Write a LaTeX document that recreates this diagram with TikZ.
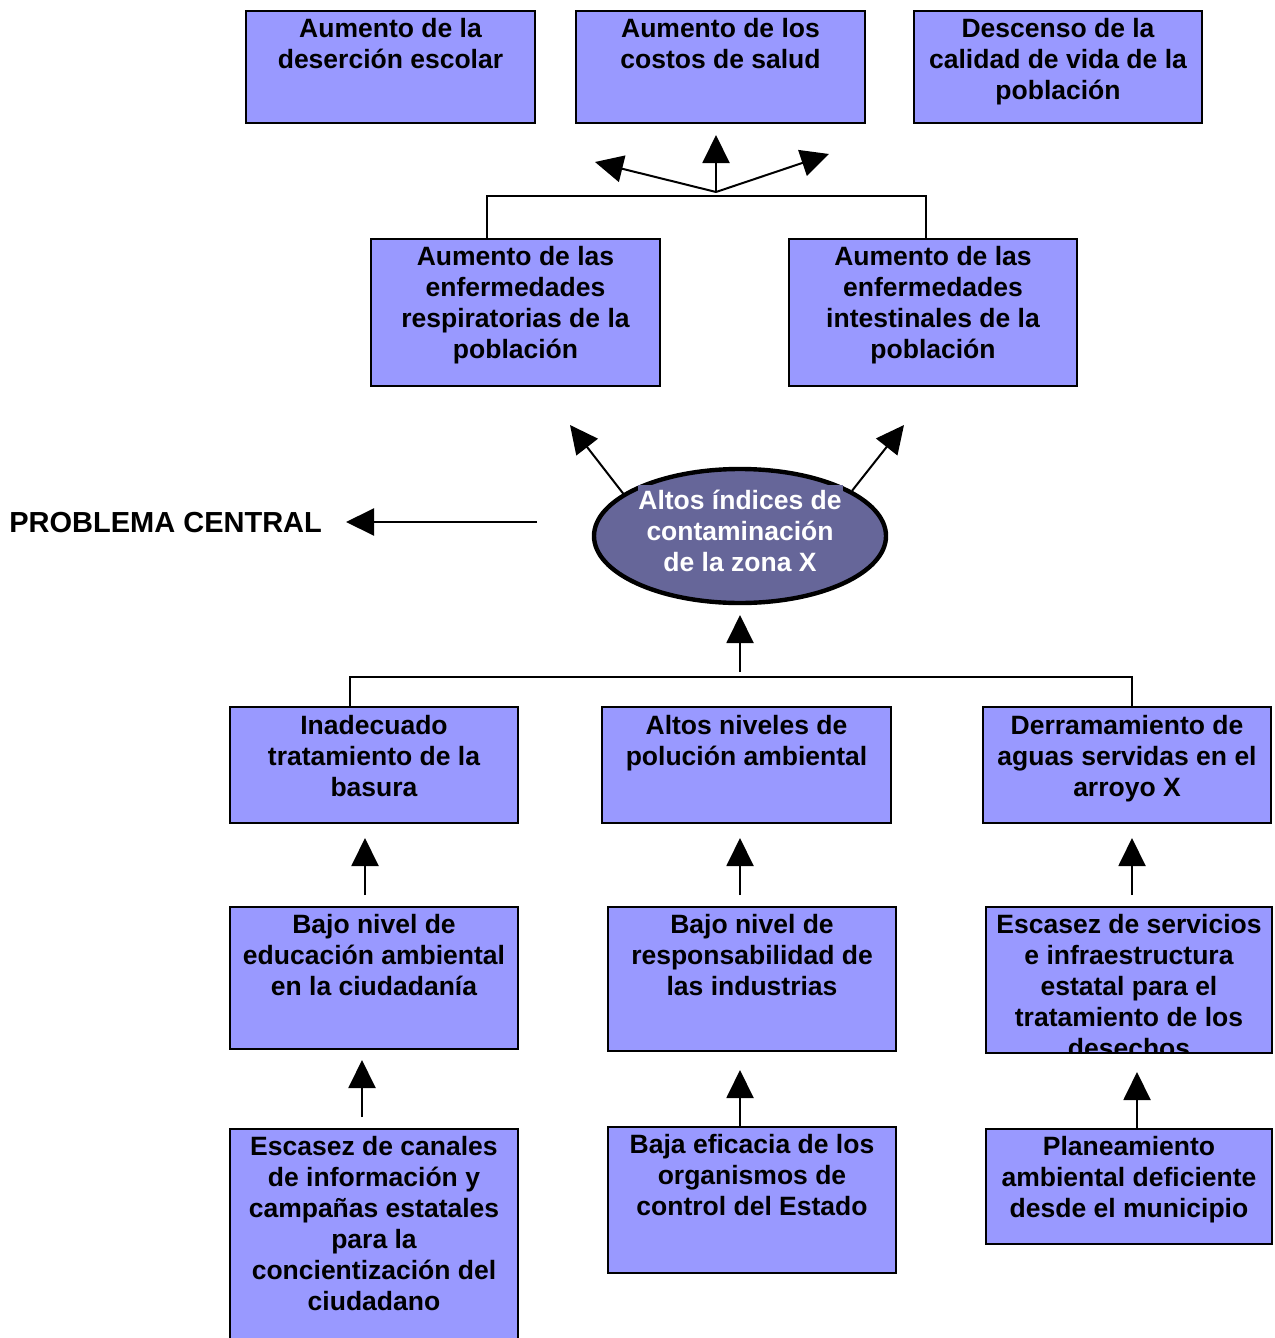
\documentclass[tikz,border=0pt]{standalone}
\usepackage{fontspec}
\setmainfont{Liberation Sans}
\usetikzlibrary{arrows.meta,fit,shapes.geometric}
\definecolor{boxblue}{HTML}{9999FF}
\definecolor{ellfill}{HTML}{666699}
\begin{document}
\begin{tikzpicture}[x=0.5pt,y=-0.5pt,
  box/.style={draw=black, line width=1pt, fill=boxblue, inner sep=0pt, outer sep=0pt},
  txt/.style={font=\fontsize{13.25pt}{15.5pt}\selectfont\bfseries, align=center, inner sep=0pt, anchor=north,
    yshift=-3.5pt, execute at begin node={\rule{0pt}{13.25pt}}},
  conn/.style={line width=1pt},
  arr/.style={line width=1pt, -{Triangle[length=14pt,width=13.5pt]}}]
\useasboundingbox (0,0) rectangle (1274,1338);

% --- boxes
\node[box, fit={(246,11) (535,123)}] (e1) {};
\node[box, fit={(576,11) (865,123)}] (e2) {};
\node[box, fit={(914,11) (1202,123)}] (e3) {};
\node[box, fit={(371,239) (660,386)}] (m1) {};
\node[box, fit={(789,239) (1077,386)}] (m2) {};
\node[box, fit={(230,707) (518,823)}] (c1) {};
\node[box, fit={(602,707) (891,823)}] (c2) {};
\node[box, fit={(983,707) (1271,823)}] (c3) {};
\node[box, fit={(230,907) (518,1049)}] (d1) {};
\node[box, fit={(608,907) (896,1051)}] (d2) {};
\node[box, fit={(986,907) (1272,1053)}] (d3) {};
\node[box, fit={(230,1129) (518,1350)}] (f1) {};
\node[box, fit={(608,1127) (896,1273)}] (f2) {};
\node[box, fit={(986,1129) (1272,1244)}] (f3) {};

% --- texts
\node[txt] (te1) at (e1.north) {Aumento de la\\deserción escolar};
\node[txt] (te2) at (e2.north) {Aumento de los\\costos de salud};
\node[txt] (te3) at (e3.north) {Descenso de la\\calidad de vida de la\\población};
\node[txt] (tm1) at (m1.north) {Aumento de las\\enfermedades\\respiratorias de la\\población};
\node[txt] (tm2) at (m2.north) {Aumento de las\\enfermedades\\intestinales de la\\población};
\node[txt] (tc1) at ([yshift=-0.5pt]c1.north) {Inadecuado\\tratamiento de la\\basura};
\node[txt] (tc2) at ([yshift=-0.5pt]c2.north) {Altos niveles de\\polución ambiental};
\node[txt] (tc3) at ([yshift=-0.5pt]c3.north) {Derramamiento de\\aguas servidas en el\\arroyo X};
\node[txt] (td1) at (d1.north) {Bajo nivel de\\educación ambiental\\en la ciudadanía};
\node[txt] (td2) at (d2.north) {Bajo nivel de\\responsabilidad de\\las industrias};
\begin{scope}
  \clip (d3.north west) rectangle (d3.south east);
  \node[txt] (td3) at (d3.north) {Escasez de servicios\\e infraestructura\\estatal para el\\tratamiento de los\\desechos};
\end{scope}
\draw[line width=1pt] (d3.north west) rectangle (d3.south east);
\node[txt] (tf1) at (f1.north) {Escasez de canales\\de información y\\campañas estatales\\para la\\concientización del\\ciudadano};
\node[txt] (tf2) at (f2.north) {Baja eficacia de los\\organismos de\\control del Estado};
\node[txt] (tf3) at (f3.north) {Planeamiento\\ambiental deficiente\\desde el municipio};

% --- central ellipse
\node[ellipse, draw=black, line width=2.2pt, fill=ellfill, minimum width=146pt, minimum height=67pt, inner sep=0pt] (ell) at (740,536) {};
\fill[ellfill] (638,485) rectangle (843,500);
\node[txt, text=white] (tell) at (740,483) {Altos índices de\\contaminación\\de la zona X};

% --- problema central
\node[font=\fontsize{14.5pt}{17pt}\selectfont\bfseries, anchor=base west, inner sep=0pt] (pc) at (9,532) {PROBLEMA CENTRAL};
\coordinate (pcstart) at (537,522);
\coordinate (pctip) at (346,522);
\draw[arr] (pcstart) -- (pctip);

% --- top fan
\coordinate (fan) at (716,192);
\coordinate (fanline) at (716,196);
\coordinate (tipL) at (595,162);
\coordinate (tipM) at (716,135);
\coordinate (tipR) at (829,154);
\draw[arr] (fan) -- (tipL);
\draw[arr] (fan) -- (tipM);
\draw[arr] (fan) -- (tipR);
\draw[conn] ([xshift=58pt]m1.north west) |- (fanline) -| ([xshift=68.5pt]m2.north west);

% --- ellipse arrows up
\coordinate (etipL) at (570,425);
\coordinate (etipR) at (904,425);
\draw[arr] (ell.160) -- (etipL);
\draw[arr] (ell.22) -- (etipR);

% --- bottom tree
\coordinate (cstart) at (740,672);
\coordinate (ctip) at (740,615);
\coordinate (cline) at (740,677);
\draw[arr] (cstart) -- (ctip);
\draw[conn] ([xshift=60pt]c1.north west) |- (cline) -| ([xshift=74.5pt]c3.north west);

% --- vertical arrows between rows
\coordinate (a1s) at (365,895); \coordinate (a1t) at (365,838);
\coordinate (a2s) at (740,895); \coordinate (a2t) at (740,838);
\coordinate (a3s) at (1132,895); \coordinate (a3t) at (1132,838);
\coordinate (b1s) at (362,1117); \coordinate (b1t) at (362,1060);
\coordinate (b2s) at (740,1127); \coordinate (b2t) at (740,1070);
\coordinate (b3s) at (1137,1129); \coordinate (b3t) at (1137,1072);
\draw[arr] (a1s) -- (a1t);
\draw[arr] (a2s) -- (a2t);
\draw[arr] (a3s) -- (a3t);
\draw[arr] (b1s) -- (b1t);
\draw[arr] (b2s) -- (b2t);
\draw[arr] (b3s) -- (b3t);
\end{tikzpicture}
\end{document}
